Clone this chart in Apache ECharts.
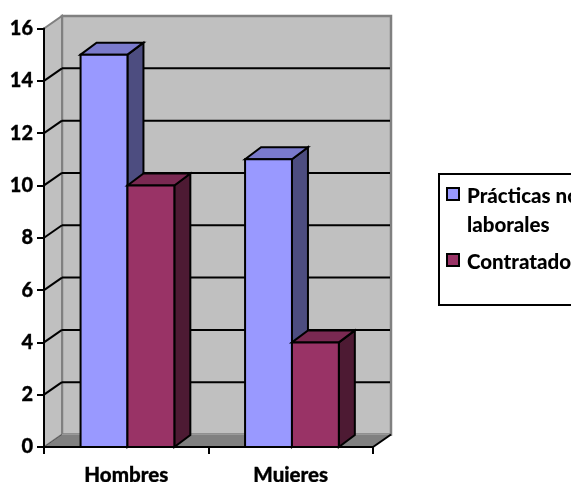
<!DOCTYPE html>
<html><head><meta charset="utf-8">
<style>html,body{margin:0;padding:0;background:#fff;overflow:hidden}#c{width:571px;height:482px}</style>
<script src="https://cdn.jsdelivr.net/npm/echarts@6/dist/echarts.min.js"></script>
</head><body><div id="c"></div>
<script>
const categories = ['Hombres', 'Mujeres'];
const practicas = [15, 11];
const contratados = [10, 4];
const yTicks = [0, 2, 4, 6, 8, 10, 12, 14, 16];
const seriesNames = ['Prácticas no\nlaborales', 'Contratado'];

const WALL_DX = 18, WALL_DY = -12.5, BAR_DX = 16, BAR_DY = -12, BAR_W = 0.285;
const FONT = 'Lato, "Open Sans", sans-serif';

function poly(pts, fill, stroke, lw) {
  return { type: 'polygon', shape: { points: pts },
    style: { fill: fill, stroke: stroke || null, lineWidth: lw || 0, lineJoin: 'miter' } };
}
function line(a, b, stroke, lw) {
  return { type: 'line', shape: { x1: a[0], y1: a[1], x2: b[0], y2: b[1] }, style: { stroke: stroke, lineWidth: lw } };
}

function renderWalls(params, api) {
  const g = params.coordSys;
  const x0 = g.x, x1 = g.x + g.width, yB = g.y + g.height, yT = g.y;
  const d = [WALL_DX, WALL_DY];
  const children = [];
  children.push(poly([[x0 + d[0], yT + d[1]], [x1 + d[0], yT + d[1]], [x1 + d[0], yB + d[1]], [x0 + d[0], yB + d[1]]], '#C0C0C0', '#808080', 2.5));
  children.push(poly([[x0, yT], [x0 + d[0], yT + d[1]], [x0 + d[0], yB + d[1]], [x0, yB]], '#C0C0C0', '#808080', 2));
  children.push(poly([[x0, yB], [x1, yB], [x1 + d[0], yB + d[1]], [x0 + d[0], yB + d[1]]], '#808080', '#999999', 1));
  yTicks.forEach(function (t) {
    const y = api.coord([0, t])[1];
    if (t > 0 && t < yTicks[yTicks.length - 1]) {
      children.push(line([x0 + d[0], y + d[1]], [x1 + d[0] - 1, y + d[1]], '#000', 2));
      children.push(line([x0, y], [x0 + d[0], y + d[1]], '#000', 2));
    }
  });
  children.push(line([x1, yB], [x1 + d[0], yB + d[1]], '#000', 2));
  children.push(line([x0, yB], [x0 + d[0], yB + d[1]], '#555', 1));
  return { type: 'group', children: children };
}

function barRenderer(sign, front, top, side) {
  return function (params, api) {
    const cat = api.value(0), val = api.value(1);
    const base = api.coord([cat, 0]), head = api.coord([cat, val]);
    const w = api.size([1, 0])[0] * BAR_W;
    const xc = base[0] + 1.2;
    const xa = sign < 0 ? xc - w : xc, xb = sign < 0 ? xc : xc + w;
    const s = '#000', lw = 2;
    return { type: 'group', children: [
      poly([[xb, head[1]], [xb + BAR_DX, head[1] + BAR_DY], [xb + BAR_DX, base[1] + BAR_DY], [xb, base[1]]], side, s, lw),
      poly([[xa, head[1]], [xa + BAR_DX, head[1] + BAR_DY], [xb + BAR_DX, head[1] + BAR_DY], [xb, head[1]]], top, s, lw),
      poly([[xa, head[1]], [xb, head[1]], [xb, base[1]], [xa, base[1]]], front, s, lw)
    ] };
  };
}

const chart = echarts.init(document.getElementById('c'), null, { renderer: 'canvas' });
const labelStyle = { color: '#000', fontFamily: FONT, fontWeight: 900, textBorderColor: '#000', textBorderWidth: 0.3 };
const legendText = { fill: '#000', font: '900 20.5px ' + FONT };
chart.setOption({
  animation: false,
  backgroundColor: '#fff',
  grid: { left: 44, top: 28.5, width: 329, height: 418.5, containLabel: false, outerBoundsMode: 'none' },
  xAxis: {
    type: 'category', data: categories, z: 6,
    axisLine: { lineStyle: { color: '#000', width: 2 } },
    axisTick: { show: true, length: 7, lineStyle: { color: '#000', width: 2 } },
    axisLabel: Object.assign({ fontSize: 20.5, margin: 18 }, labelStyle),
    splitLine: { show: false }
  },
  yAxis: {
    type: 'value', min: 0, max: 16, interval: 2, z: 6,
    axisLine: { show: true, lineStyle: { color: '#000', width: 2 } },
    axisTick: { show: true, length: 7, lineStyle: { color: '#000', width: 2 } },
    axisLabel: Object.assign({ fontSize: 20, margin: 11 }, labelStyle),
    splitLine: { show: false }
  },
  series: [
    { type: 'custom', name: 'walls', silent: true, clip: false, z: 1, data: [[0, 0]], renderItem: renderWalls },
    { type: 'custom', name: seriesNames[0], clip: false, z: 2,
      data: practicas.map((v, i) => [i, v]), encode: { x: 0, y: 1 },
      renderItem: barRenderer(-1, '#9999FF', '#7A7ACC', '#4D4D80') },
    { type: 'custom', name: seriesNames[1], clip: false, z: 3,
      data: contratados.map((v, i) => [i, v]), encode: { x: 0, y: 1 },
      renderItem: barRenderer(1, '#993366', '#7A2952', '#4D1A33') }
  ],
  graphic: [
    { type: 'rect', shape: { x: 439, y: 174, width: 160, height: 131 }, style: { fill: '#fff', stroke: '#000', lineWidth: 2 } },
    { type: 'rect', shape: { x: 447, y: 188, width: 12, height: 12 }, style: { fill: '#9999FF', stroke: '#000', lineWidth: 2 } },
    { type: 'text', x: 467, y: 182, style: Object.assign({ text: seriesNames[0], lineHeight: 29 }, legendText) },
    { type: 'rect', shape: { x: 447, y: 254, width: 12, height: 12 }, style: { fill: '#993366', stroke: '#000', lineWidth: 2 } },
    { type: 'text', x: 467, y: 250, style: Object.assign({ text: seriesNames[1], lineHeight: 24 }, legendText) }
  ]
});
</script></body></html>
